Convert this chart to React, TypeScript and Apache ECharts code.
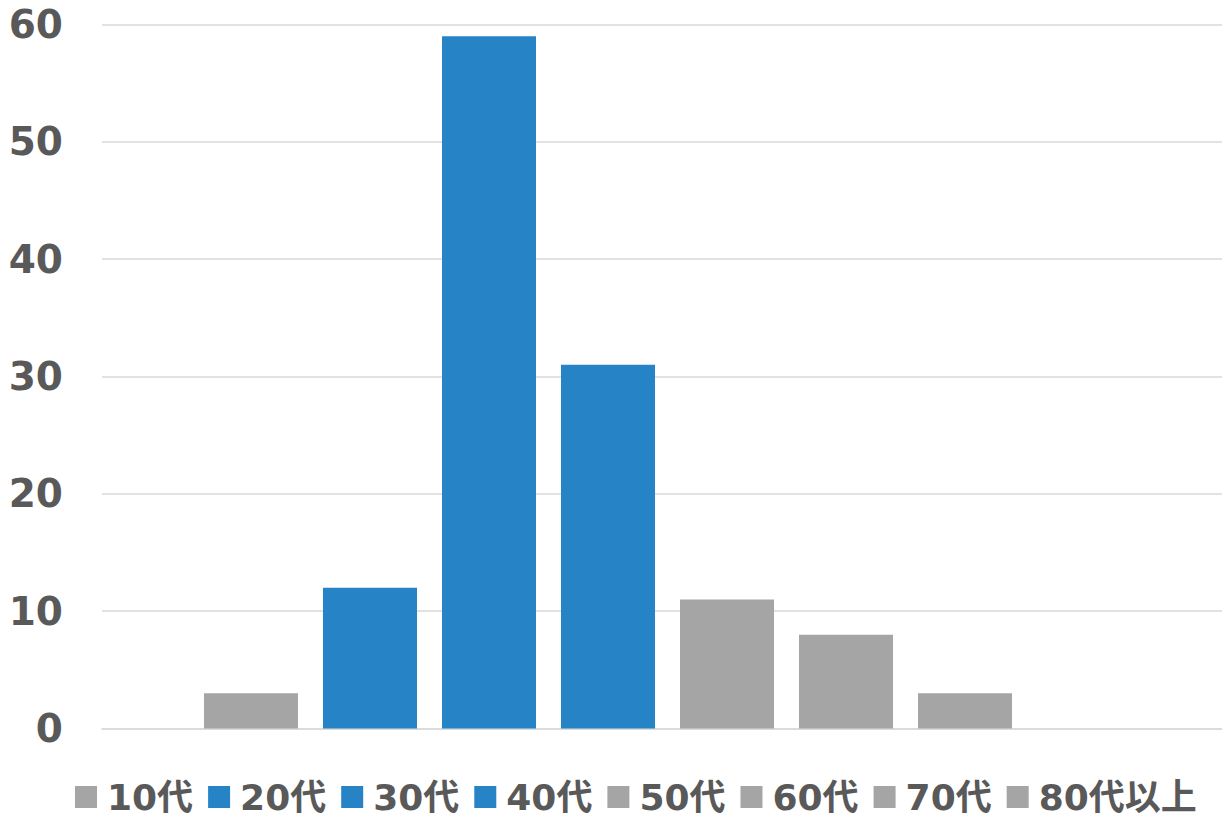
import React, { useEffect, useRef } from "react";
import * as echarts from "echarts";

const seriesNames = ["10代", "20代", "30代", "40代", "50代", "60代", "70代", "80代以上"];
const seriesValues = [3, 12, 59, 31, 11, 8, 3, 0];
const seriesColors = ["#A5A5A5", "#2683C6", "#2683C6", "#2683C6", "#A5A5A5", "#A5A5A5", "#A5A5A5", "#A5A5A5"];
const categories = [""];

export default function App() {
  const ref = useRef<HTMLDivElement>(null);
  useEffect(() => {
    if (!ref.current) return;
    const chart = echarts.init(ref.current, undefined, { renderer: "svg" });
    const font = "'DejaVu Sans', 'Noto Sans CJK JP', sans-serif";
    chart.setOption({
      animation: false,
      grid: { left: 102, top: 24.5, right: -11, height: 704, containLabel: false, outerBoundsMode: "none" },
      xAxis: {
        type: "category",
        data: categories,
        axisLine: { show: true, lineStyle: { color: "#D9D9D9", width: 1.5 } },
        axisTick: { show: false },
        axisLabel: { show: false },
      },
      yAxis: {
        type: "value",
        min: 0,
        max: 60,
        interval: 10,
        axisLine: { show: false },
        axisTick: { show: false },
        splitLine: { lineStyle: { color: "#D9D9D9", width: 1.5 } },
        axisLabel: {
          color: "#595959",
          fontSize: 39,
          fontWeight: "bold",
          fontFamily: font,
          margin: 39,
        },
      },
      legend: {
        top: 779,
        left: 75,
        padding: 0,
        icon: "rect",
        itemWidth: 22,
        itemHeight: 22,
        itemGap: 15,
        textStyle: {
          color: "#595959",
          fontSize: 36,
          lineHeight: 30,
          fontWeight: "bold",
          fontFamily: font,
          padding: [0, 0, 0, 5],
        },
        data: seriesNames,
      },
      series: seriesNames.map((name, i) => ({
        name,
        type: "bar",
        data: [seriesValues[i]],
        barWidth: 94,
        barGap: "26.6%",
        itemStyle: { color: seriesColors[i] },
      })),
    });
    return () => chart.dispose();
  }, []);
  return <div ref={ref} style={{ position: "absolute", left: 0, top: 0, width: 1222, height: 815, overflow: "hidden" }} />;
}
